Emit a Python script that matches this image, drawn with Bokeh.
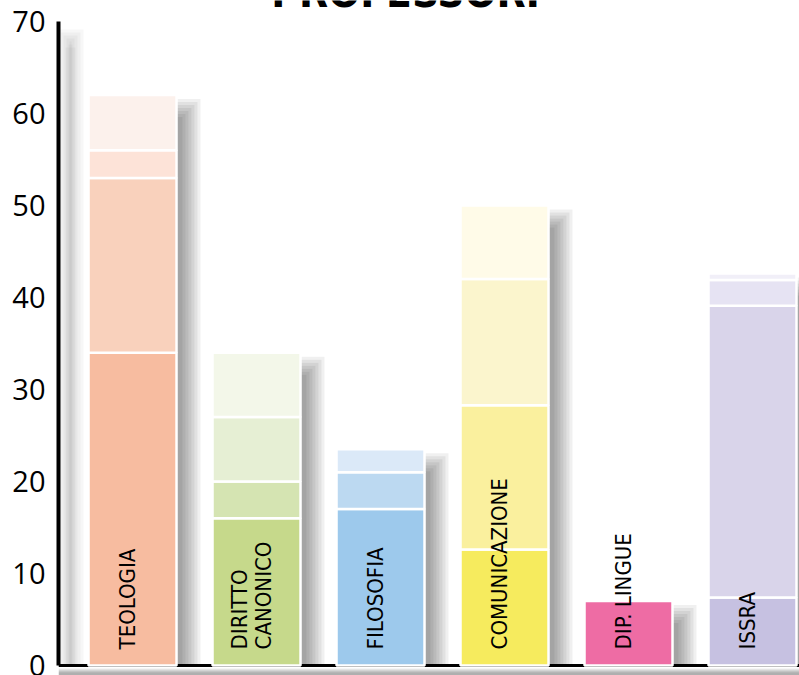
import math
from bokeh.plotting import figure
from bokeh.models import Range1d, LinearAxis, FixedTicker, Span, Label
from bokeh.core.properties import value
from bokeh.embed import file_html
from bokeh.resources import INLINE

# ---------------- data ----------------
categories = ["TEOLOGIA", "DIRITTO\nCANONICO", "FILOSOFIA", "COMUNICAZIONE", "DIP. LINGUE", "ISSRA"]
seg1 = [34.0, 16.0, 17.0, 12.6, 7.0, 7.4]
seg2 = [19.0, 4.0, 4.0, 15.7, 0.0, 31.7]
seg3 = [3.0, 7.0, 2.5, 13.7, 0.0, 2.8]
seg4 = [6.0, 7.0, 0.0, 8.0, 0.0, 0.7]
y_ticks = [0, 10, 20, 30, 40, 50, 60, 70]
title_text = "PROFESSORI"

colors = [
    ["#f7bca0", "#f9d1bc", "#fde3d8", "#fcf1ec"],
    ["#c6d98b", "#d5e4b2", "#e6efd4", "#f3f7e9"],
    ["#9dc9ec", "#bcd9f1", "#dbe9f8", "#ffffff"],
    ["#f6eb5e", "#faf09e", "#fbf5cd", "#fffbe8"],
    ["#ee6ca4", "#ffffff", "#ffffff", "#ffffff"],
    ["#c6c1e1", "#d9d4ea", "#e6e3f3", "#f1eff8"],
]

# ---------------- layout constants ----------------
PX_X = 124.0   # pixels per category step
PX_Y = 9.2     # pixels per unit
BAR_W = 88.0 / PX_X

xs = list(range(len(categories)))
segs = [seg1, seg2, seg3, seg4]
totals = [sum(s[i] for s in segs) for i in xs]

p = figure(width=799, height=675, output_backend="svg", toolbar_location=None,
           x_range=Range1d(-0.597, 5.379), y_range=Range1d(-1.087, 72.28),
           x_axis_type=None, y_axis_type=None, min_border=0, min_border_left=58,
           outline_line_color=None, background_fill_color="white")

# ---- drop shadows (layered to fake blur) ----
offs = [-8, -5, -2, 1, 4, 7, 10]
for s in offs:
    p.quad(left=[x - BAR_W / 2 + (14 - s) / PX_X for x in xs],
           right=[x + BAR_W / 2 + (14 + s) / PX_X for x in xs],
           top=[t - (14 - s) / PX_Y for t in totals],
           bottom=[0 for _ in xs],
           fill_color="black", fill_alpha=0.06, line_color=None)

# axis shadow
x0 = -0.597
for s in offs:
    p.quad(left=[x0 + (9 - s) / PX_X], right=[x0 + (15 + s) / PX_X],
           top=[y_ticks[-1] - (18 - s) / PX_Y], bottom=[0],
           fill_color="black", fill_alpha=0.03, line_color=None)

# baseline shadow band
for k in range(5):
    p.quad(left=[x0], right=[5.379], top=[-(3 + k) / PX_Y], bottom=[-1.2],
           fill_color="black", fill_alpha=0.07, line_color=None)

# baseline
p.add_layout(Span(location=0, dimension="width", line_color="black", line_width=3, level="underlay"))

# ---- stacked bars ----
bottoms = [0.0] * len(xs)
for j, seg in enumerate(segs):
    idx = [i for i in xs if seg[i] > 0]
    p.vbar(x=[xs[i] for i in idx], width=BAR_W,
           bottom=[bottoms[i] for i in idx], top=[bottoms[i] + seg[i] for i in idx],
           fill_color=[colors[i][j] for i in idx], line_color="white", line_width=2.5)
    bottoms = [bottoms[i] + seg[i] for i in xs]

# ---- vertical labels inside bars ----
p.text(x=[x - 5 / PX_X for x in xs], y=[1.75] * len(xs), text=categories, angle=math.pi / 2,
       text_align="left", text_baseline="middle", text_font=value("DejaVu Sans Condensed"),
       text_font_size="22px", text_color="black", text_line_height=0.95)

# ---- y axis ----
yaxis = LinearAxis(ticker=FixedTicker(ticks=y_ticks), bounds=(0, 70),
                   axis_line_width=4, axis_line_color="black",
                   major_tick_line_color=None, minor_tick_line_color=None,
                   major_tick_out=0, major_tick_in=0,
                   major_label_text_font="Open Sans", major_label_text_font_size="29px",
                   major_label_text_color="black", major_label_standoff=13)
p.add_layout(yaxis, "left")

# ---- title (cut at top like the reference) ----
p.add_layout(Label(x=(405 - 132) / PX_X, y=(665 + 8) / PX_Y, text=title_text,
                   text_align="center", text_baseline="alphabetic",
                   text_font="DejaVu Sans Condensed", text_font_style="bold",
                   text_font_size="42px", text_color="black"))

open("out.html", "w").write(file_html(p, INLINE))
